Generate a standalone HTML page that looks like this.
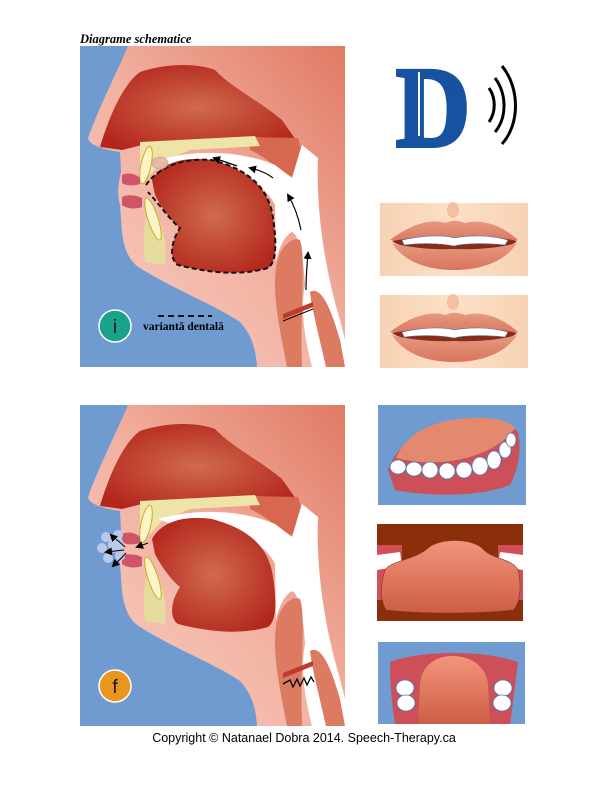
<!DOCTYPE html>
<html><head><meta charset="utf-8"><style>
html,body{margin:0;padding:0;background:#fff;width:612px;height:792px;overflow:hidden}
svg{display:block}
</style></head><body>
<svg width="612" height="792" viewBox="0 0 612 792" xmlns="http://www.w3.org/2000/svg">
<defs>
<linearGradient id="skin" x1="0" y1="1" x2="1" y2="0">
<stop offset="0" stop-color="#f8cfc4"/><stop offset="0.5" stop-color="#f2b2a2"/><stop offset="1" stop-color="#e07a64"/></linearGradient>
<radialGradient id="red" cx="0.5" cy="0.5" r="0.6"><stop offset="0" stop-color="#d06a50"/><stop offset="1" stop-color="#b3261b"/></radialGradient>
<linearGradient id="lipskin" x1="0" y1="0" x2="1" y2="0"><stop offset="0" stop-color="#f7d2b4"/><stop offset="0.5" stop-color="#fde0c6"/><stop offset="1" stop-color="#f7d2b4"/></linearGradient>
<linearGradient id="lip" x1="0" y1="0" x2="0" y2="1"><stop offset="0" stop-color="#e79a80"/><stop offset="1" stop-color="#d8755c"/></linearGradient>
<linearGradient id="tng" x1="0" y1="0" x2="0" y2="1"><stop offset="0" stop-color="#f2957c"/><stop offset="1" stop-color="#cc5e44"/></linearGradient>
<marker id="ah" markerWidth="8" markerHeight="8" refX="6" refY="4" orient="auto" markerUnits="userSpaceOnUse"><path d="M0,0 L8,4 L0,8 Z" fill="#000"/></marker>
<g id="head">
<rect x="80" y="46" width="265" height="321" fill="url(#skin)"/>
<path d="M80,46 L128,46 C118,70 100,105 88,138 C90,147 108,150 120,152 L121,172 C118,185 117,195 120,205 L122,232 C124,250 130,262 140,268 C175,290 215,305 240,322 C252,335 256,350 257,367 L80,367 Z" fill="#6f9bd1"/>
<path d="M100,147 C108,120 122,85 140,72 C170,62 200,64 215,70 C232,88 258,100 282,120 L296,140 L255,137 L150,143 L122,150 Z" fill="url(#red)"/>
<path d="M250,137 L298,138 C305,158 302,176 295,178 C280,172 268,158 250,150 Z" fill="#d8674f"/>
<path d="M140,142 L255,136 L260,146 L190,150 L162,162 L150,175 L140,165 Z" fill="#efe4a8"/>
<path d="M158,160 C200,148 245,152 275,165 L292,178 C296,165 300,150 302,145 L318,158 C316,200 322,260 340,320 L345,340 L345,367 L312,367 C305,340 300,310 305,285 C303,250 298,235 292,232 C284,236 278,250 276,262 L275,205 C262,178 220,165 180,168 Z" fill="#fff"/>
<path d="M152,180 C162,162 185,156 212,160 C242,168 265,182 272,212 C277,240 277,262 268,268 C240,276 210,273 178,265 C168,258 172,240 180,228 C170,220 160,205 155,195 Z" fill="url(#red)"/>
<path d="M276,268 C278,248 292,236 300,240 C306,258 300,300 302,367 L287,367 C280,330 272,295 276,268 Z" fill="#dd7a62"/>
<path d="M310,292 C322,285 332,312 340,340 L345,367 L326,367 C320,340 312,310 310,292 Z" fill="#dd7a62"/>
<path d="M283,314 L313,302 L313,307 L283,319 Z" fill="#c0392b"/>
<path d="M150,205 C160,215 168,240 165,265 L145,262 C142,240 144,220 150,205 Z" fill="#e6dca0"/>
<ellipse cx="146" cy="165" rx="5" ry="19" transform="rotate(12 146 165)" fill="#fbf4c8" stroke="#c8b020" stroke-width="1"/>
<ellipse cx="153" cy="219" rx="5" ry="22" transform="rotate(-18 153 219)" fill="#fbf4c8" stroke="#c8b020" stroke-width="1"/>
<path d="M122,175 C128,172 136,174 140,178 L140,184 C134,186 126,186 122,183 Z" fill="#cf5468"/>
<path d="M122,197 C128,194 136,195 142,198 L142,207 C134,210 126,208 122,205 Z" fill="#cf5468"/>
</g>
</defs>

<text x="80" y="43" font-family="Liberation Serif, serif" font-size="12.5" font-weight="bold" font-style="italic">Diagrame schematice</text>

<use href="#head"/>
<path d="M146,185 C160,165 185,158 212,160 C242,168 265,182 272,212 C277,240 277,262 268,268 C240,276 210,273 178,265 C168,258 172,240 180,228 C170,220 160,205 148,192" fill="none" stroke="#111" stroke-width="2" stroke-dasharray="5,3"/>
<ellipse cx="160" cy="163" rx="8" ry="6" fill="#e8b6a6" stroke="#aaa" stroke-width="0.8" opacity="0.9"/>
<path d="M237,166 L214,158" stroke="#000" stroke-width="1.2" fill="none" marker-end="url(#ah)"/>
<path d="M273,178 C265,172 258,170 250,168" stroke="#000" stroke-width="1.2" fill="none" marker-end="url(#ah)"/>
<path d="M301,230 C298,215 294,205 288,195" stroke="#000" stroke-width="1.2" fill="none" marker-end="url(#ah)"/>
<path d="M306,290 C306,275 307,265 308,253" stroke="#000" stroke-width="1.2" fill="none" marker-end="url(#ah)"/>
<path d="M283,321 L313,309" stroke="#000" stroke-width="1"/>
<circle cx="115" cy="326" r="16" fill="#1aa28d" stroke="#fff" stroke-width="1.5"/>
<text x="115" y="333" text-anchor="middle" font-family="Liberation Sans, sans-serif" font-size="19" fill="#111">i</text>
<line x1="158" y1="316" x2="212" y2="316" stroke="#111" stroke-width="2" stroke-dasharray="6,4"/>
<text x="143" y="330" font-family="Liberation Serif, serif" font-size="11.5" font-weight="bold">variantă dentală</text>

<use href="#head" transform="translate(0,359)"/>
<g fill="#b9c9ea">
<circle cx="106" cy="537" r="5"/><circle cx="102" cy="548" r="5"/><circle cx="108" cy="558" r="5"/><circle cx="116" cy="545" r="8"/><circle cx="120" cy="556" r="5"/><circle cx="118" cy="535" r="5"/>
</g>
<path d="M148,543 L137,547" stroke="#000" stroke-width="1" marker-end="url(#ah)"/>
<path d="M125,547 C118,540 114,538 111,535" stroke="#000" stroke-width="1" fill="none" marker-end="url(#ah)"/>
<path d="M124,550 L106,552" stroke="#000" stroke-width="1" marker-end="url(#ah)"/>
<path d="M126,553 C120,560 116,563 113,566" stroke="#000" stroke-width="1" fill="none" marker-end="url(#ah)"/>
<path d="M283,684 L290,680 L293,687 L297,679 L300,686 L304,678 L307,685 L311,677 L314,682" stroke="#000" stroke-width="1.3" fill="none"/>
<circle cx="115" cy="686" r="16" fill="#e8961e" stroke="#fff" stroke-width="1.5"/>
<text x="115" y="693" text-anchor="middle" font-family="Liberation Sans, sans-serif" font-size="19" fill="#111">f</text>

<!-- D logo -->
<text x="396" y="146" font-family="Liberation Serif, serif" font-size="114" font-weight="bold" fill="#1652a0" stroke="#1652a0" stroke-width="4" textLength="74" lengthAdjust="spacingAndGlyphs">D</text>
<path d="M419,72 L419,136" stroke="#fff" stroke-width="2"/>
<g fill="none" stroke="#000" stroke-width="3">
<path d="M489,88 C496,98 496,112 489,122"/>
<path d="M495,78 C507,94 507,118 495,132"/>
<path d="M502,66 C520,88 520,124 502,144"/>
</g>

<!-- lips -->
<g id="lips">
<rect x="380" y="203" width="148" height="73" fill="url(#lipskin)"/>
<ellipse cx="453" cy="210" rx="6" ry="8" fill="#f2c09e"/>
<path d="M390,240 C410,225 430,218 445,223 C452,220 458,220 465,223 C485,218 505,228 518,240 C500,242 470,240 453,243 C430,240 405,242 390,240 Z" fill="url(#lip)"/>
<path d="M392,241 C420,236 440,234 454,238 C470,234 495,236 517,241 C508,250 480,250 454,252 C430,250 405,250 392,241 Z" fill="#8a2b18"/>
<path d="M402,240 C425,235 445,235 454,238 C470,235 490,235 508,240 L505,245 C485,243 465,243 454,246 C440,243 420,243 404,245 Z" fill="#fff" stroke="#4a7ab8" stroke-width="0.6"/>
<path d="M392,243 C410,248 435,250 454,249 C475,250 500,248 517,243 C505,262 480,270 454,270 C428,270 404,262 392,243 Z" fill="url(#lip)"/>
</g>
<use href="#lips" transform="translate(0,92)"/>

<!-- tongue pic 1 -->
<rect x="378" y="405" width="148" height="100" fill="#6f9bd1"/>
<path d="M388,470 C395,450 410,435 440,428 C470,420 505,418 518,432 C522,450 518,470 510,485 C480,497 430,497 395,490 Z" fill="#cd4f58"/>
<path d="M396,458 C405,435 430,422 460,419 C485,416 505,418 515,428 C505,442 492,450 470,457 C445,464 420,464 396,458 Z" fill="#e3896d"/>
<g fill="#fff" stroke="#4a7ab8" stroke-width="0.8">
<ellipse cx="398" cy="467" rx="8" ry="7"/><ellipse cx="414" cy="469" rx="8" ry="7"/><ellipse cx="430" cy="470" rx="8" ry="8"/><ellipse cx="447" cy="471" rx="8" ry="8"/><ellipse cx="464" cy="470" rx="8" ry="8"/><ellipse cx="480" cy="466" rx="8" ry="9"/><ellipse cx="494" cy="460" rx="7" ry="9"/><ellipse cx="505" cy="450" rx="6" ry="8"/><ellipse cx="511" cy="440" rx="5" ry="7"/>
</g>

<!-- tongue pic 2 -->
<rect x="377" y="524" width="146" height="97" fill="#8b2e0a"/>
<path d="M377,545 L402,545 L402,600 L377,600 Z M498,545 L523,545 L523,600 L498,600 Z" fill="#d15058"/>
<path d="M377,555 L400,552 L402,566 L377,570 Z M500,552 L523,555 L523,570 L498,566 Z" fill="#fff"/>
<path d="M385,570 C392,560 415,560 428,548 C440,538 470,538 482,548 C492,560 512,558 518,570 C522,585 520,605 513,610 C480,614 420,614 386,610 C380,600 380,585 385,570 Z" fill="url(#tng)" stroke="#7a3a20" stroke-width="0.6"/>

<!-- tongue pic 3 -->
<rect x="378" y="642" width="147" height="82" fill="#6f9bd1"/>
<path d="M390,662 C420,650 485,650 518,662 C515,685 513,705 510,724 L395,724 C392,705 390,685 390,662 Z" fill="#cd4f58"/>
<path d="M420,684 C422,662 440,656 452,656 C466,656 485,662 488,684 L490,724 L418,724 Z" fill="url(#tng)"/>
<g fill="#fff" stroke="#4a7ab8" stroke-width="0.8">
<ellipse cx="405" cy="688" rx="9" ry="8"/><ellipse cx="406" cy="703" rx="9" ry="8"/>
<ellipse cx="503" cy="688" rx="9" ry="8"/><ellipse cx="502" cy="703" rx="9" ry="8"/>
</g>

<text x="304" y="742" text-anchor="middle" font-family="Liberation Sans, sans-serif" font-size="12.5" fill="#000">Copyright © Natanael Dobra 2014.  Speech-Therapy.ca</text>
</svg>
</body></html>
